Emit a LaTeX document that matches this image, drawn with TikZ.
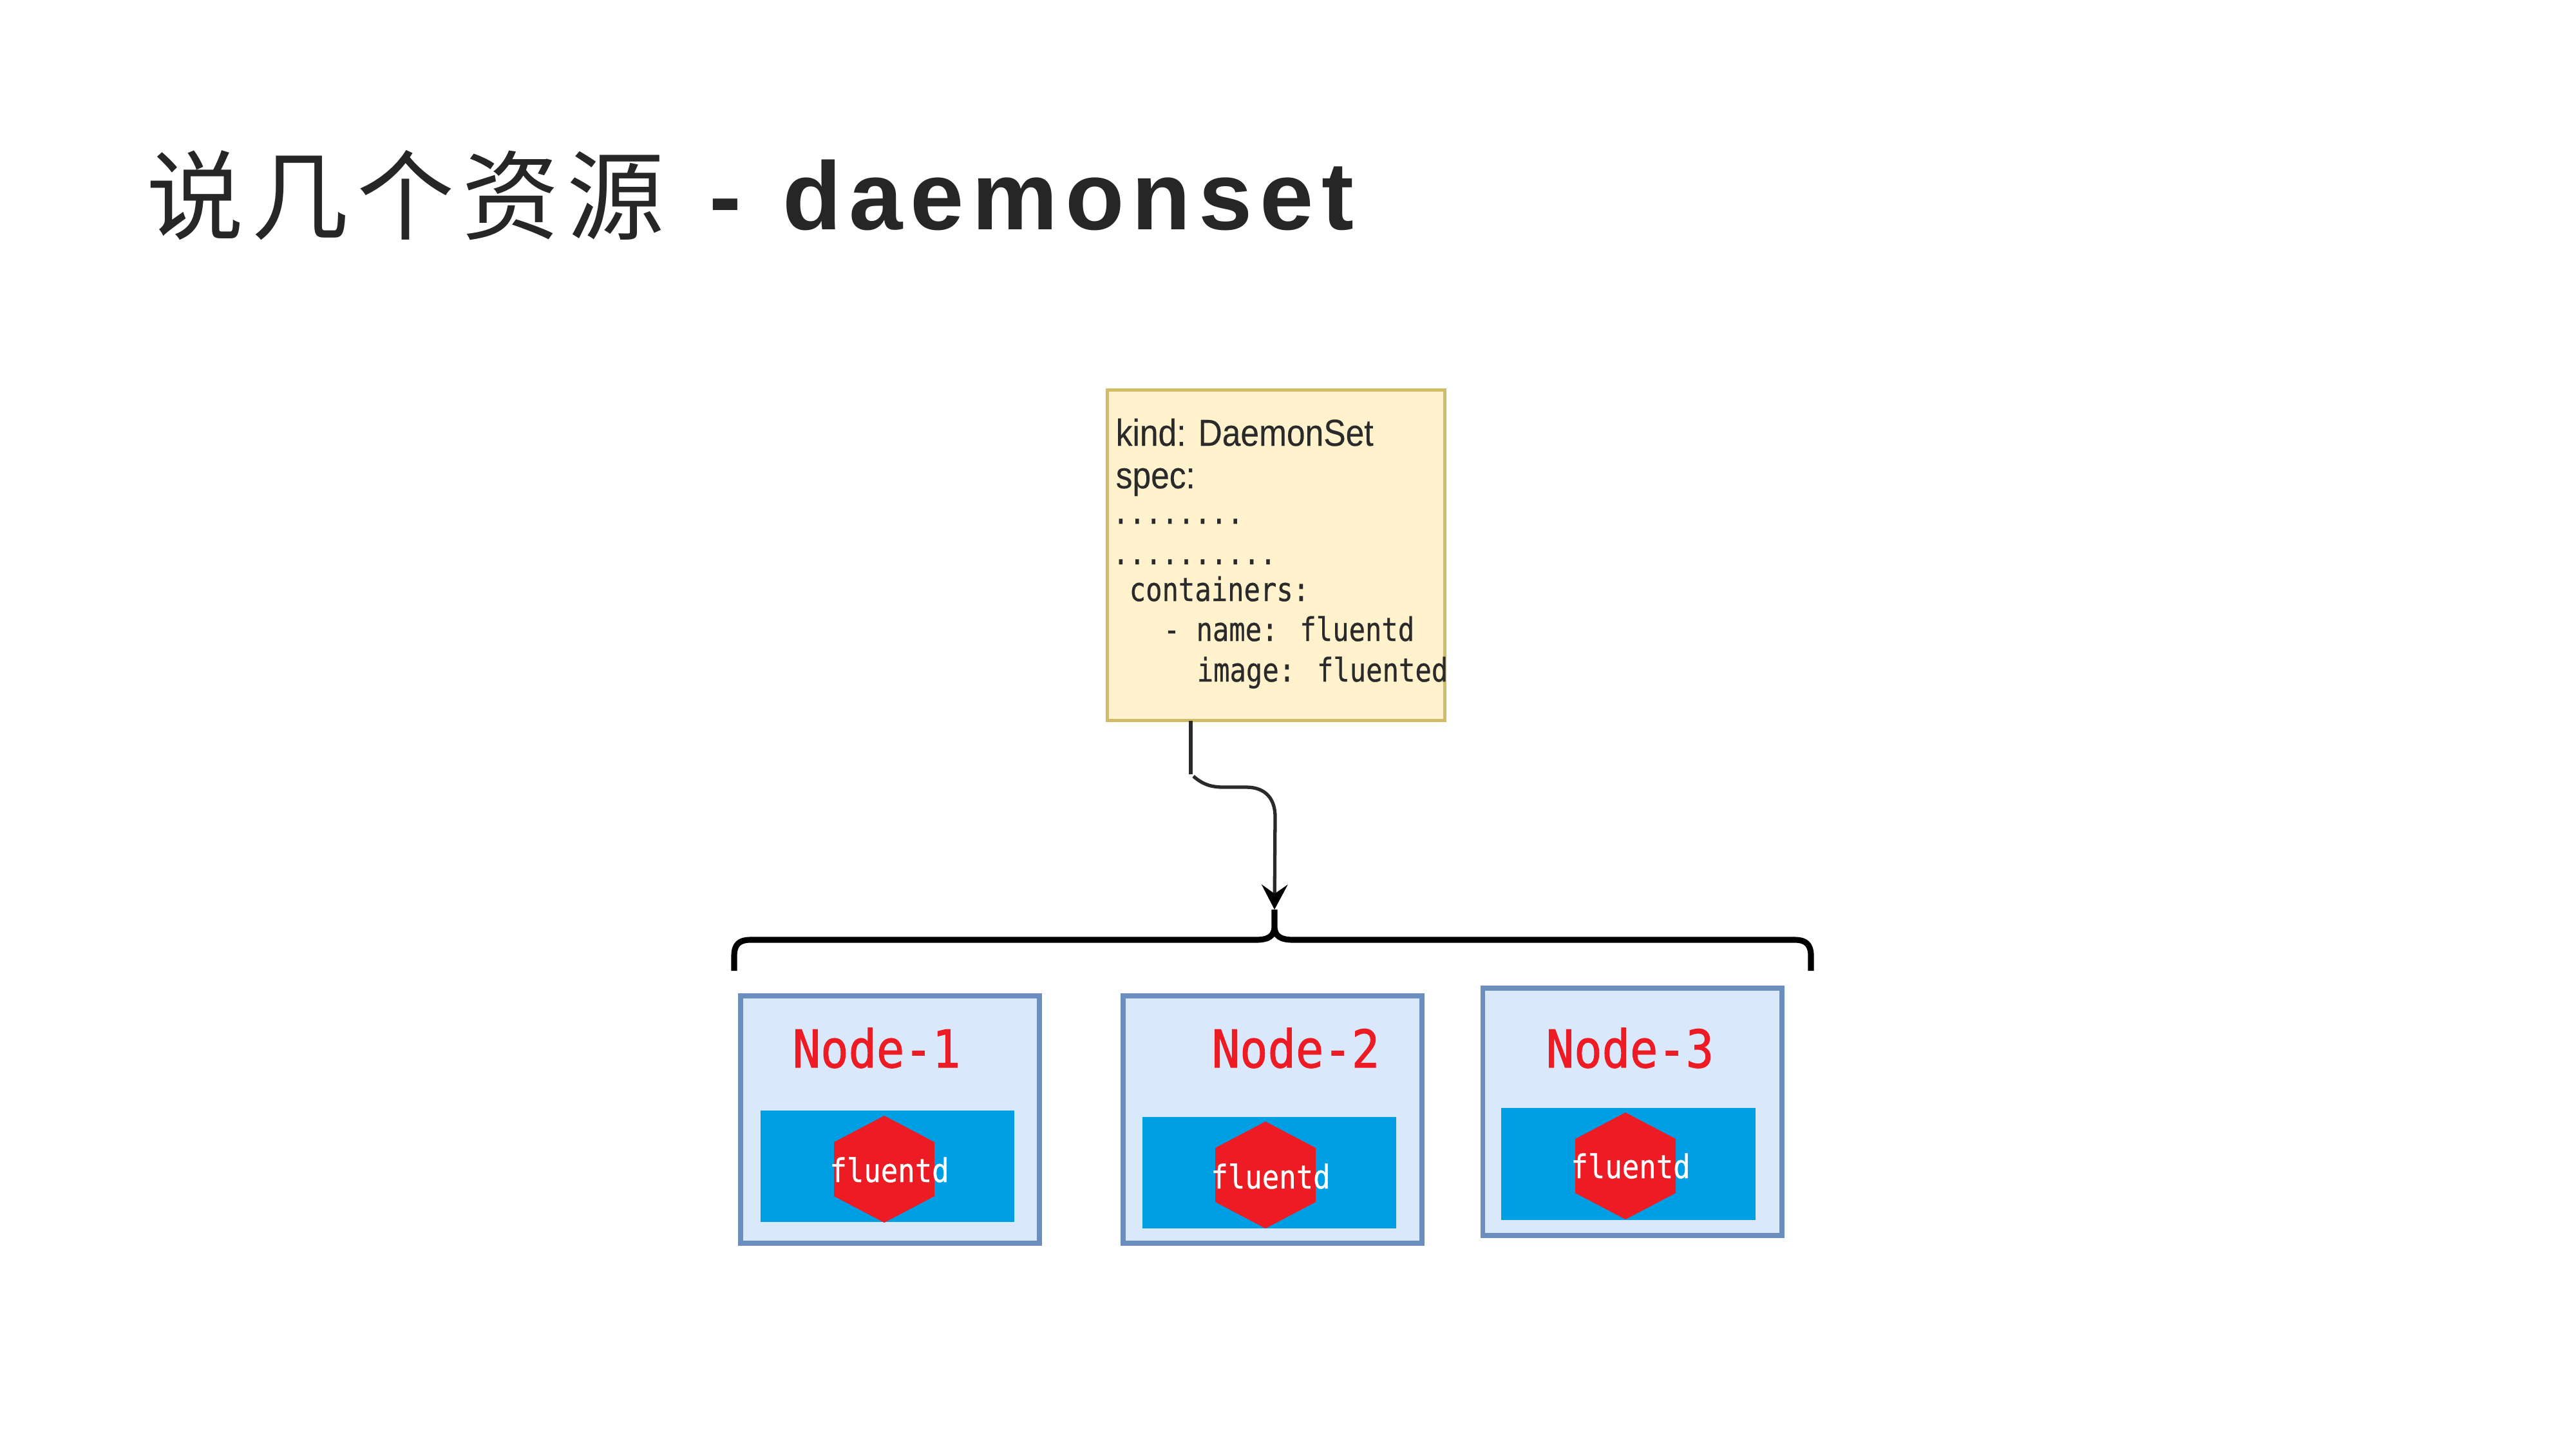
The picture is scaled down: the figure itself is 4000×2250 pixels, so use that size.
\documentclass[tikz,border=0pt]{standalone}
\usepackage{fontspec}
\usetikzlibrary{arrows.meta,calc}
\setmainfont{Liberation Sans}
\newfontfamily\titlecjk[LetterSpace=8]{Noto Sans CJK SC}
\newfontfamily\titlelat[LetterSpace=8]{Liberation Sans}
\newfontfamily\monof[FakeBold=0.6]{DejaVu Sans Mono}
\newfontfamily\monolabel[FakeBold=1.4]{DejaVu Sans Mono}
\newfontfamily\sansf[FakeBold=0.3]{Liberation Sans}
\definecolor{titleink}{HTML}{262626}
\definecolor{yamlfill}{HTML}{FFF2CC}
\definecolor{yamlline}{HTML}{D2BC66}
\definecolor{nodefill}{HTML}{DAE8FC}
\definecolor{nodeline}{HTML}{6C8EBF}
\definecolor{podblue}{HTML}{009FE3}
\definecolor{podred}{HTML}{ED1C24}
\definecolor{codeink}{HTML}{2A2A2A}
\tikzset{
  yamlbox/.style={draw=yamlline,fill=yamlfill,line width=1.4pt,inner sep=0,outer sep=0,minimum width=5.23cm,minimum height=5.13cm},
  nodebox/.style={draw=nodeline,fill=nodefill,line width=2.2pt,inner sep=0,outer sep=0,minimum width=4.64cm,minimum height=3.84cm},
  podbox/.style={fill=podblue,inner sep=0,outer sep=0,minimum width=3.94cm,minimum height=1.73cm},
  codesans/.style={anchor=base west,inner sep=0,text=codeink,font=\sansf\fontsize{14.65pt}{16pt}\selectfont,yscale=1.13,transform shape},
  codemono/.style={anchor=base west,inner sep=0,text=codeink,font=\monof\fontsize{12pt}{14pt}\selectfont,yscale=1.2,transform shape},
  nodelabel/.style={inner sep=0,text=podred,font=\monolabel\fontsize{20.5pt}{22pt}\selectfont,yscale=1.12,transform shape},
  podlabel/.style={inner sep=0,text=white,font=\monof\fontsize{12.5pt}{14pt}\selectfont,yscale=1.15,transform shape},
  link/.style={draw=codeink,line width=1.5pt},
  bracket/.style={draw=black,line width=2.6pt},
  hexfill/.style={fill=podred}
}
\begin{document}
\begin{tikzpicture}[x=0.01cm,y=-0.01cm]
\useasboundingbox (0,0) rectangle (4000,2250);
\node[anchor=base west,inner sep=0,text=titleink] (title) at (227,356) {\raisebox{-0.04cm}{\fontsize{43pt}{46pt}\selectfont\titlecjk 说几个资源}\hspace*{0.16cm}{\fontsize{42.6pt}{46pt}\selectfont\titlelat\bfseries{} -\hspace*{0.1cm} daemonset}};

\node[yamlbox] (yaml) at (1981.5,862) {};
\node[codesans] (l1) at (1732,692) {kind: DaemonSet};
\node[codesans] (l2) at (1732,758) {spec:};
\node[codemono] (l3) at (1727,813) {........};
\node[codemono] (l4) at (1727,876) {..........};
\node[codemono] (l5) at (1753,933) {containers:};
\node[codemono] (l6) at (1806,995) {- name: fluentd};
\node[codemono] (l7) at (1858,1058) {image: fluented};

\node[nodebox] (n1) at (1382,1738) {};
\node[nodebox] (n2) at (1976,1738) {};
\node[nodebox] (n3) at (2534.5,1726) {};
\node[podbox] (p1) at (1378,1810.5) {};
\node[podbox] (p2) at (1971,1820.5) {};
\node[podbox] (p3) at (2528.5,1807) {};

\coordinate (h1) at (1373,1815);
\coordinate (h2) at (1965,1824);
\coordinate (h3) at (2524,1810);
\foreach \h in {h1,h2,h3}
  \fill[hexfill] (\h)+(0,-83) -- +(78,-42) -- +(78,42) -- +(0,83) -- +(-78,42) -- +(-78,-42) -- cycle;

\node[nodelabel] (t1) at (1361,1627) {Node-1};
\node[nodelabel] (t2) at (2012,1627) {Node-2};
\node[nodelabel] (t3) at (2531,1627) {Node-3};
\node[podlabel] (f1) at (1381,1816) {fluentd};
\node[podlabel] (f2) at (1973,1826) {fluentd};
\node[podlabel] (f3) at (2532,1810) {fluentd};

\coordinate (bt) at (1979,1412);
\draw[link] ($(yaml.south west)+(129,0)$) -- ++(0,83);
\draw[link,-{Stealth[inset=4pt,length=11pt,width=11.5pt,black]}] (1853,1205) .. controls (1870,1220) and (1885,1222) .. (1900,1222) -- (1935,1222) .. controls (1965,1222) and (1980,1240) .. (1980,1268) -- (bt);
\draw[bracket] (1140,1507) -- (1140,1484) .. controls (1140,1466) and (1148,1459) .. (1165,1459) -- (1950,1459) .. controls (1970,1459) and (1979,1453) .. (1979,1438) -- (bt) -- (1979,1438) .. controls (1979,1453) and (1988,1459) .. (2008,1459) -- (2787,1459) .. controls (2804,1459) and (2812,1466) .. (2812,1484) -- (2812,1507);
\end{tikzpicture}
\end{document}
